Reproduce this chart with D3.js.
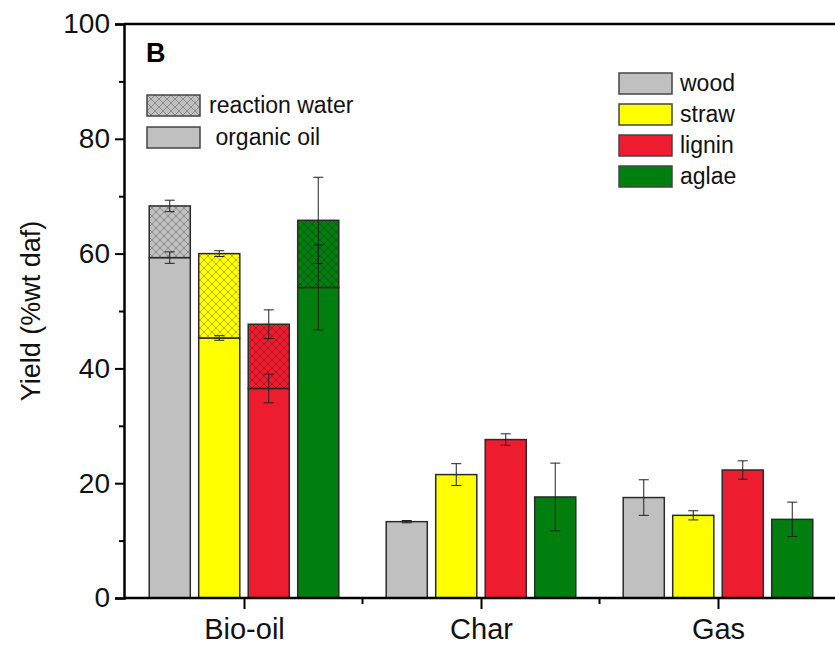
<!DOCTYPE html>
<html>
<head>
<meta charset="utf-8">
<script src="https://cdn.jsdelivr.net/npm/d3@7"></script>
<style>
body { margin: 0; background: #fff; }
text { font-family: "Liberation Sans", Arial, sans-serif; }
</style>
</head>
<body>
<script>
// data
var categories = ["Bio-oil", "Char", "Gas"];
var feeds = ["wood", "straw", "lignin", "aglae"];
var colors = ["#c0c0c0", "#ffff00", "#ed1c2e", "#007f0e"];
var organicOil = [59.3, 45.3, 36.5, 54.1];
var organicErr = [1.0, 0.4, 2.5, 7.4];
var bioOilTotal = [68.3, 60.0, 47.7, 65.8];
var bioOilErr = [1.0, 0.5, 2.5, 7.5];
var charYield = [13.3, 21.5, 27.6, 17.6];
var charErr = [0.2, 1.9, 1.0, 5.9];
var gasYield = [17.5, 14.4, 22.3, 13.7];
var gasErr = [3.1, 0.8, 1.6, 3.0];
var yTicks = [0, 20, 40, 60, 80, 100];

var W = 835, H = 648;
var plotLeft = 124, plotTop = 24, plotBottom = 598;   // "top" is taken by window.top

var svg = d3.select("body").append("svg")
    .attr("width", W)
    .attr("height", H);

var y = d3.scaleLinear().domain([0, 100]).range([plotBottom, plotTop]);
var x = d3.scalePoint().domain(categories).range([244, 718]);
var xs = d3.scaleBand().domain(feeds).range([-99, 99]).paddingInner(0.17).paddingOuter(0.085);
var color = d3.scaleOrdinal().domain(feeds).range(colors);

// crosshatch patterns
var defs = svg.append("defs");
feeds.forEach(function(f) {
    var p = defs.append("pattern")
        .attr("id", "hatch-" + f)
        .attr("patternUnits", "userSpaceOnUse")
        .attr("width", 8).attr("height", 8);
    p.append("rect").attr("width", 8).attr("height", 8).attr("fill", color(f));
    p.append("path").attr("d", "M0,0L8,8M8,0L0,8")
        .attr("stroke", "rgba(0,0,0,0.4)").attr("stroke-width", 0.7);
});

// flat list of bars
var bars = [];
feeds.forEach(function(f, i) {
    bars.push({cat: "Bio-oil", feed: f, y0: 0, y1: organicOil[i], fill: color(f), err: organicErr[i]});
    bars.push({cat: "Bio-oil", feed: f, y0: organicOil[i], y1: bioOilTotal[i], fill: "url(#hatch-" + f + ")", err: bioOilErr[i]});
    bars.push({cat: "Char", feed: f, y0: 0, y1: charYield[i], fill: color(f), err: charErr[i]});
    bars.push({cat: "Gas", feed: f, y0: 0, y1: gasYield[i], fill: color(f), err: gasErr[i]});
});

svg.selectAll("rect.bar")
    .data(bars)
    .enter()
    .append("rect")
    .attr("class", "bar")
    .attr("x", function(d) { return x(d.cat) + xs(d.feed); })
    .attr("y", function(d) { return y(d.y1); })
    .attr("width", xs.bandwidth())
    .attr("height", function(d) { return y(d.y0) - y(d.y1); })
    .attr("fill", function(d) { return d.fill; })
    .attr("stroke", "#2a2a2a")
    .attr("stroke-width", 1.5);

// error bars
var eb = svg.selectAll("g.err")
    .data(bars)
    .enter()
    .append("g")
    .attr("class", "err")
    .attr("transform", function(d) { return "translate(" + (x(d.cat) + xs(d.feed) + xs.bandwidth() / 2) + ",0)"; })
    .attr("stroke", "#222")
    .attr("stroke-width", 1);
eb.append("line")
    .attr("y1", function(d) { return y(d.y1 + d.err); })
    .attr("y2", function(d) { return y(d.y1 - d.err); });
eb.append("line").attr("x1", -5).attr("x2", 5)
    .attr("y1", function(d) { return y(d.y1 + d.err); })
    .attr("y2", function(d) { return y(d.y1 + d.err); });
eb.append("line").attr("x1", -5).attr("x2", 5)
    .attr("y1", function(d) { return y(d.y1 - d.err); })
    .attr("y2", function(d) { return y(d.y1 - d.err); });

// y axis
var yAxis = svg.append("g").attr("transform", "translate(" + plotLeft + ",0)")
    .call(d3.axisLeft(y).tickValues(yTicks).tickSize(9).tickPadding(5));
svg.append("g").attr("transform", "translate(" + plotLeft + ",0)")
    .call(d3.axisLeft(y).tickValues([10, 30, 50, 70, 90]).tickSize(5).tickFormat(""))
    .select(".domain").remove();
yAxis.selectAll("text").style("font-size", "28px").attr("fill", "#111");

// x axis
var xAxis = svg.append("g").attr("transform", "translate(0," + plotBottom + ")")
    .call(d3.axisBottom(x).tickSize(11).tickPadding(9));
xAxis.select(".domain").attr("d", "M" + plotLeft + ",0H" + W);
xAxis.selectAll("text").style("font-size", "29px").attr("fill", "#111");
var mids = [];
for (var i = 0; i < categories.length - 1; i++) mids.push((x(categories[i]) + x(categories[i + 1])) / 2);
svg.append("g").selectAll("line").data(mids).enter().append("line")
    .attr("x1", function(d) { return d; }).attr("x2", function(d) { return d; })
    .attr("y1", plotBottom).attr("y2", plotBottom + 6)
    .attr("stroke", "#000").attr("stroke-width", 2);

svg.selectAll(".domain").attr("stroke-width", 2.5);
svg.selectAll(".tick line").attr("stroke-width", 2);

// top frame line
svg.append("line").attr("x1", plotLeft).attr("x2", W)
    .attr("y1", y(100)).attr("y2", y(100))
    .attr("stroke", "#000").attr("stroke-width", 2.5);

// y title
svg.append("text")
    .attr("transform", "translate(40," + ((plotTop + plotBottom) / 2) + ") rotate(-90)")
    .attr("text-anchor", "middle")
    .style("font-size", "27px")
    .attr("fill", "#111")
    .text("Yield (%wt daf)");

// panel letter
svg.append("text").attr("x", 146).attr("y", 62)
    .style("font-size", "27px").style("font-weight", "bold")
    .text("B");

// left legend
var leg1 = [{label: "reaction water", fill: "url(#hatch-wood)"}, {label: " organic oil", fill: color("wood")}];
var l1 = svg.selectAll("g.leg1").data(leg1).enter().append("g")
    .attr("class", "leg1")
    .attr("transform", function(d, i) { return "translate(147," + (95 + i * 32) + ")"; });
l1.append("rect").attr("width", 53).attr("height", 21)
    .attr("fill", function(d) { return d.fill; })
    .attr("stroke", "#444").attr("stroke-width", 1.5);
l1.append("text").attr("x", 62).attr("y", 18)
    .style("font-size", "23px").attr("fill", "#111")
    .style("white-space", "pre").attr("xml:space", "preserve")
    .text(function(d) { return d.label; });

// right legend
var l2 = svg.selectAll("g.leg2").data(feeds).enter().append("g")
    .attr("class", "leg2")
    .attr("transform", function(d, i) { return "translate(619," + (73 + i * 31) + ")"; });
l2.append("rect").attr("width", 53).attr("height", 21)
    .attr("fill", function(d) { return color(d); })
    .attr("stroke", "#444").attr("stroke-width", 1.5);
l2.append("text").attr("x", 61).attr("y", 18)
    .style("font-size", "23px").attr("fill", "#111")
    .text(function(d) { return d; });
</script>
</body>
</html>
